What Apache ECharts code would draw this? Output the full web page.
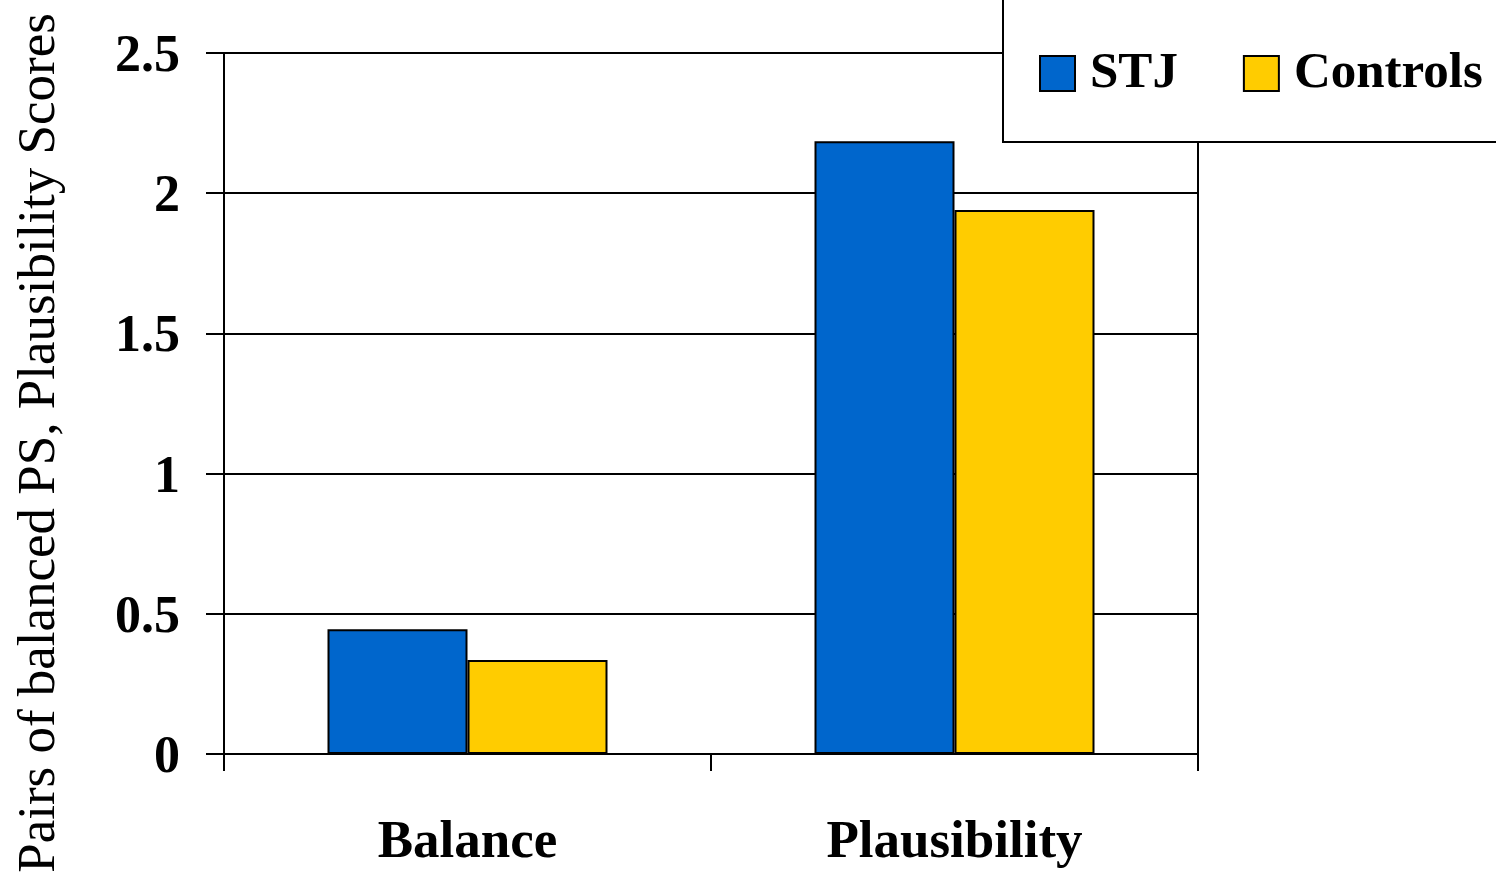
<!DOCTYPE html>
<html>
<head>
<meta charset="utf-8">
<script src="https://cdn.jsdelivr.net/npm/echarts@6/dist/echarts.min.js"></script>
<style>
  html, body { margin: 0; padding: 0; background: #fff; }
  #chart { width: 1496px; height: 873px; }
</style>
</head>
<body>
<div id="chart"></div>
<script>
// Mean scores per condition
const categories = ['Balance', 'Plausibility'];
const stjValues = [0.445, 2.185];
const controlValues = [0.335, 1.94];
const seriesNames = ['STJ', 'Controls'];
const yAxisTitle = 'Pairs of balanced PS, Plausibility Scores';

const serif = '"Liberation Serif", "Times New Roman", serif';
const ink = '#000';

const chart = echarts.init(document.getElementById('chart'), null, { renderer: 'canvas' });

chart.setOption({
  animation: false,
  backgroundColor: '#fff',
  grid: {
    left: 224, right: 298, top: 53, bottom: 119,
    show: true, borderColor: ink, borderWidth: 2, backgroundColor: 'transparent'
  },
  graphic: [
    {
      // legend frame, running off the top and right edges
      type: 'rect',
      shape: { x: 1003, y: -10, width: 520, height: 152 },
      style: { fill: '#fff', stroke: ink, lineWidth: 2 },
      z: 50
    },
    {
      // vertical value-axis title
      type: 'text',
      x: 40, y: 443,
      rotation: Math.PI / 2,
      style: {
        text: yAxisTitle,
        fontFamily: serif, fontSize: 53, fill: ink,
        align: 'center', verticalAlign: 'middle'
      },
      z: 10
    }
  ],
  legend: {
    data: seriesNames,
    left: 1039, top: 48,
    padding: 0,
    itemWidth: 35, itemHeight: 35,
    itemGap: 65,
    icon: 'rect',
    z: 60,
    textStyle: { fontFamily: serif, fontWeight: 'bold', fontSize: 51, color: ink, padding: [0, 0, 0, 10] }
  },
  xAxis: {
    type: 'category',
    data: categories,
    axisLine: { lineStyle: { color: ink, width: 2 } },
    axisTick: { show: true, length: 17, lineStyle: { color: ink, width: 2 } },
    axisLabel: { margin: 63, fontFamily: serif, fontWeight: 'bold', fontSize: 53, color: ink }
  },
  yAxis: {
    type: 'value',
    min: 0, max: 2.5, interval: 0.5,
    axisLine: { show: true, lineStyle: { color: ink, width: 2 } },
    axisTick: { show: true, length: 18, lineStyle: { color: ink, width: 2 } },
    splitLine: { lineStyle: { color: ink, width: 2 } },
    axisLabel: {
      margin: 44, fontFamily: serif, fontWeight: 'bold', fontSize: 52, color: ink,
      verticalAlign: 'top', lineHeight: 9,
      formatter: v => String(v)
    }
  },
  series: [
    {
      name: seriesNames[0], type: 'bar', data: stjValues,
      barWidth: 140, barGap: '0%',
      itemStyle: { color: '#0066CC', borderColor: ink, borderWidth: 2 }
    },
    {
      name: seriesNames[1], type: 'bar', data: controlValues,
      barWidth: 140,
      itemStyle: { color: '#FFCC00', borderColor: ink, borderWidth: 2 }
    }
  ]
});
</script>
</body>
</html>
